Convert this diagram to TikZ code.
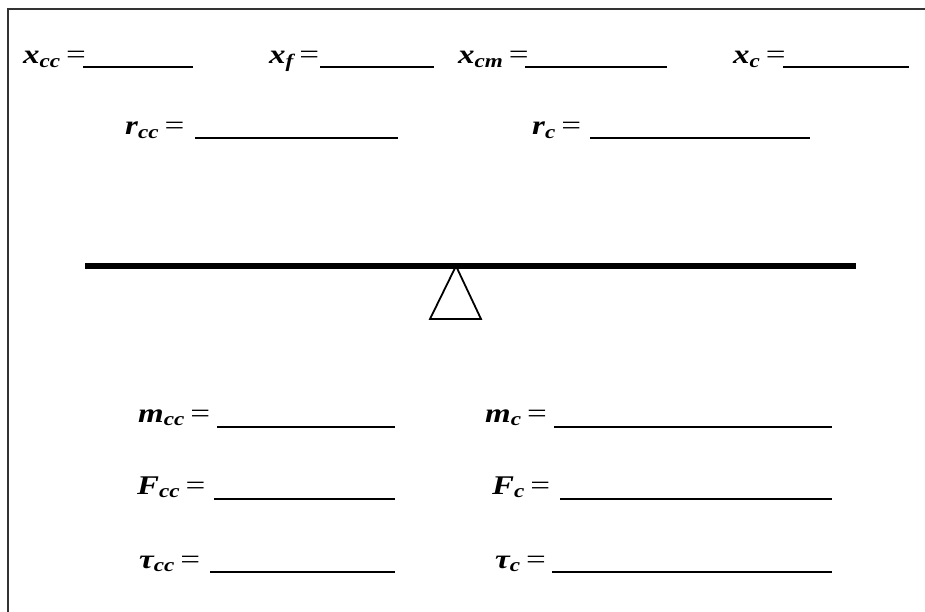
\documentclass[tikz,border=0pt]{standalone}
\usepackage{fontspec}
\usepackage{graphicx}
\setmainfont{Liberation Serif}
\newcommand\lab[2]{\scalebox{1.22}[1]{#1\raisebox{-3.5pt}{\fontsize{19}{19}\selectfont #2}}\hspace{6pt}{\normalfont\scalebox{1.3}[1]{=}}}
\begin{document}
\begin{tikzpicture}[x=1pt,y=-1pt,
  lbl/.style={anchor=base west, inner sep=0pt, font=\fontsize{27}{30}\selectfont\bfseries\itshape},
  blank/.style={line width=2.6pt},
  frameline/.style={line width=1.4pt, draw=black!80}]
\useasboundingbox (0,0) rectangle (925,612);
\fill[white] (0,0) rectangle (925,612);
% frame
\coordinate (fbl) at (8,612);
\coordinate (ftl) at (8,9);
\coordinate (ftr) at (925,9);
\draw[frameline] (fbl) -- (ftl) -- (ftr);
% row 1
\node[lbl] (xcc) at (23,64) {\lab{x}{cc}};
\coordinate (xccA) at (83,67); \coordinate (xccB) at (193,67);
\draw[blank] (xccA) -- (xccB);
\node[lbl] (xf) at (269,64) {\lab{x}{f}};
\coordinate (xfA) at (320,67); \coordinate (xfB) at (434,67);
\draw[blank] (xfA) -- (xfB);
\node[lbl] (xcm) at (458,64) {\lab{x}{cm}};
\coordinate (xcmA) at (525,67); \coordinate (xcmB) at (667,67);
\draw[blank] (xcmA) -- (xcmB);
\node[lbl] (xc) at (733,64) {\lab{x}{c}};
\coordinate (xcA) at (783,67); \coordinate (xcB) at (909,67);
\draw[blank] (xcA) -- (xcB);
% row 2
\node[lbl] (rcc) at (125,135) {\lab{r}{cc}};
\coordinate (rccA) at (195,138); \coordinate (rccB) at (398,138);
\draw[blank] (rccA) -- (rccB);
\node[lbl] (rc) at (532,135) {\lab{r}{c}};
\coordinate (rcA) at (590,138); \coordinate (rcB) at (810,138);
\draw[blank] (rcA) -- (rcB);
% beam and fulcrum
\coordinate (beamL) at (85,266); \coordinate (beamR) at (856,266);
\draw[line width=6.5pt] (beamL) -- (beamR);
\coordinate (apex) at (456,266);
\coordinate (baseL) at (430,319); \coordinate (baseR) at (481,319);
\draw[line width=1.8pt, line join=miter] (apex) -- (baseR) -- (baseL) -- cycle;
% bottom rows
\node[lbl] (mcc) at (138,422) {\lab{m}{cc}};
\coordinate (mccA) at (217,427); \coordinate (mccB) at (395,427);
\draw[blank] (mccA) -- (mccB);
\node[lbl] (mc) at (485,422) {\lab{m}{c}};
\coordinate (mcA) at (554,427); \coordinate (mcB) at (832,427);
\draw[blank] (mcA) -- (mcB);
\node[lbl] (Fcc) at (137,494) {\lab{F}{cc}};
\coordinate (FccA) at (214,499); \coordinate (FccB) at (395,499);
\draw[blank] (FccA) -- (FccB);
\node[lbl] (Fc) at (492,494) {\lab{F}{c}};
\coordinate (FcA) at (560,499); \coordinate (FcB) at (832,499);
\draw[blank] (FcA) -- (FcB);
\node[lbl] (tcc) at (139,568) {\lab{τ}{cc}};
\coordinate (tccA) at (210,572); \coordinate (tccB) at (395,572);
\draw[blank] (tccA) -- (tccB);
\node[lbl] (tc) at (495,568) {\lab{τ}{c}};
\coordinate (tcA) at (552,572); \coordinate (tcB) at (832,572);
\draw[blank] (tcA) -- (tcB);
\end{tikzpicture}
\end{document}
